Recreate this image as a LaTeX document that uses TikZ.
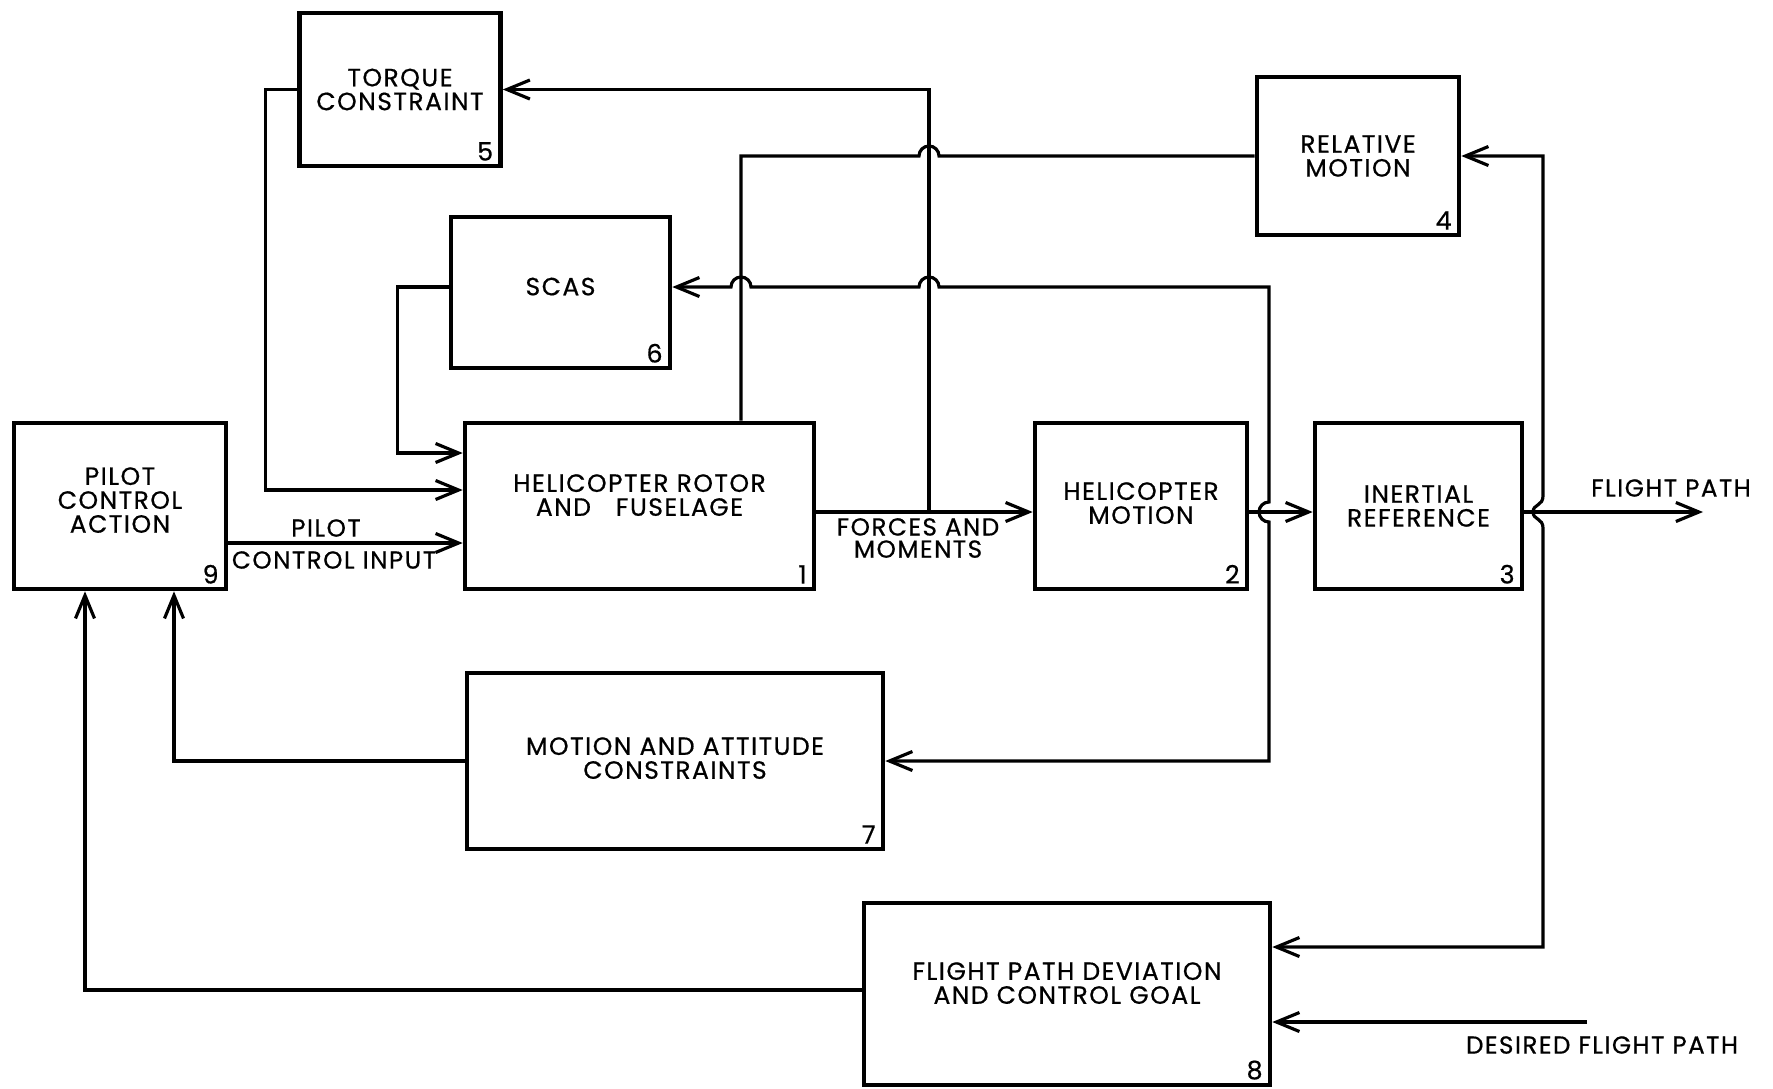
\documentclass[tikz,border=0pt]{standalone}
\usepackage{fontspec}
\newfontfamily\blockfont{Poppins}[LetterSpace=6,FakeBold=0.6]
\usetikzlibrary{arrows.meta,positioning}
\tikzset{
  % a numbered block of the pilot/helicopter loop
  blockbox/.style = {draw=black, line width=1.3pt, inner sep=0pt, align=center,
                     font=\blockfont\fontsize{7.1}{6.8}\selectfont},
  % raise the block text a little (extra depth below it)
  lift/.style     = {text depth=#1},
  % the block number, lower right corner inside the block
  numlabel/.style = {anchor=south east, inner sep=0pt, xshift=-0.9mm, yshift=0.7mm,
                     font=\blockfont\fontsize{7.2}{7}\selectfont},
  % plain signal line
  sedge/.style    = {line width=0.9pt},
  % signal line ending in an arrow
  aedge/.style    = {sedge, ->},
  % text beside a signal line
  glabel/.style   = {inner sep=0pt, align=center, font=\blockfont\fontsize{7}{6.3}\selectfont},
}
\tikzset{>={Straight Barb[length=2.3mm,width=1.9mm]}}

\begin{document}
\begin{tikzpicture}
  \useasboundingbox (0,0) rectangle (17.73,-10.88);
  % blocks
  \node[blockbox, lift=1.2mm, minimum width=2.12cm, minimum height=1.66cm] (b9) at (1.20,-5.06) {PILOT\\CONTROL\\ACTION};
  \node[blockbox, lift=2.2mm, minimum width=3.49cm, minimum height=1.66cm] (b1) at (6.395,-5.06) {HELICOPTER ROTOR\\AND\quad FUSELAGE};
  \node[blockbox, lift=0.6mm, minimum width=2.12cm, minimum height=1.66cm] (b2) at (11.41,-5.06) {HELICOPTER\\MOTION};
  \node[blockbox, minimum width=2.07cm, minimum height=1.66cm] (b3) at (14.185,-5.06) {INERTIAL\\REFERENCE};
  \node[blockbox, minimum width=2.02cm, minimum height=1.58cm] (b4) at (13.58,-1.56) {RELATIVE\\MOTION};
  \node[blockbox, minimum width=2.01cm, minimum height=1.53cm] (b5) at (4.00,-0.895) {TORQUE\\CONSTRAINT};
  \node[blockbox, lift=1.2mm, minimum width=2.19cm, minimum height=1.51cm] (b6) at (5.605,-2.925) {SCAS};
  \node[blockbox, lift=0.6mm, minimum width=4.16cm, minimum height=1.76cm] (b7) at (6.75,-7.61) {MOTION AND ATTITUDE\\CONSTRAINTS};
  \node[blockbox, lift=2.2mm, minimum width=4.06cm, minimum height=1.82cm] (b8) at (10.67,-9.94) {FLIGHT PATH DEVIATION\\AND CONTROL GOAL};
  \foreach \k in {1,...,9}
    \node[numlabel] (n\k) at (b\k.south east) {\k};

  % line labels
  \node[glabel] (pilotlbl) at (3.26,-5.28) {PILOT};
  \node[glabel] (inputlbl) at (3.34,-5.60) {CONTROL INPUT};
  \node[glabel] (fmlbl) at (9.18,-5.38) {FORCES AND\\MOMENTS};
  \node[glabel] (fplbl) at (16.71,-4.88) {FLIGHT PATH};
  \node[glabel] (dfplbl) at (16.02,-10.45) {DESIRED FLIGHT PATH};

  \coordinate (fb) at (9.29,-5.12);
  \coordinate (fpend) at (17.03,-5.12);
  \coordinate (dfpstart) at (15.87,-10.22);

  % inputs to the rotor block
  \draw[aedge] ([yshift=-0.37cm]b9.east) -- ([yshift=-0.37cm]b1.west);
  \draw[aedge] (b5.west) -- ++(-0.32,0) |- ([yshift=0.16cm]b1.west);
  \draw[aedge] ([yshift=0.055cm]b6.west) -- ++(-0.51,0) |- ([yshift=0.53cm]b1.west);
  % forward path
  \draw[aedge] ([yshift=-0.06cm]b1.east) -- ([yshift=-0.06cm]b2.west);
  \draw[aedge] ([yshift=-0.06cm]b2.east) -- ([yshift=-0.06cm]b3.west);
  \draw[aedge] ([yshift=-0.06cm]b3.east) -- (fpend);
  % torque feedback
  \draw[aedge] (fb) |- (b5.east);
  % relative motion, hops the torque line
  \draw[sedge] ([xshift=1.015cm]b1.north) |- (9.19,-1.56)
    arc[start angle=180,end angle=0,radius=0.1] -- (b4.west);
  % SCAS and constraint feedback
  \draw[sedge,<->] (b7.east) -| (12.69,-5.22) arc[start angle=270,end angle=90,radius=0.1]
    -- (12.69,-2.87) -- (9.39,-2.87) arc[start angle=0,end angle=180,radius=0.1]
    -- (7.51,-2.87) arc[start angle=0,end angle=180,radius=0.1] -- ([yshift=0.055cm]b6.east);
  % relative motion and deviation feedback
  \draw[sedge,<->] (b4.east) -| (15.43,-4.96)
    .. controls (15.43,-5.06) and (15.33,-5.04) .. (15.33,-5.12)
    .. controls (15.33,-5.20) and (15.43,-5.18) .. (15.43,-5.28)
    |- ([yshift=0.47cm]b8.east);
  \draw[aedge] (dfpstart) -- ([yshift=-0.28cm]b8.east);
  % back to the pilot
  \draw[aedge] (b7.west) -| ([xshift=0.54cm]b9.south);
  \draw[aedge] ([yshift=0.04cm]b8.west) -| ([xshift=-0.35cm]b9.south);
\end{tikzpicture}
\end{document}
